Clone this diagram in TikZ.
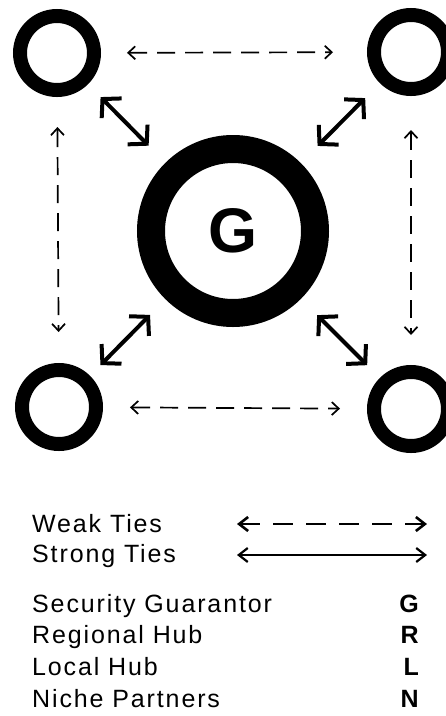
\documentclass[tikz,border=0pt]{standalone}
\usepackage{fontspec}
\setmainfont{Liberation Sans}
\newfontfamily\legfont{Liberation Sans}[LetterSpace=7.5]
\usetikzlibrary{arrows.meta}
\tikzset{
  ring/.style={circle,draw,line width=14pt,minimum size=74pt,inner sep=0pt},
  hub/.style={circle,draw,line width=28pt,minimum size=164pt,inner sep=0pt,
    font=\fontsize{63}{63}\selectfont\bfseries},
  strongtie/.style={line width=4pt,
    {Straight Barb[length=13pt,width=28pt]}-{Straight Barb[length=13pt,width=28pt]}},
  weaktie/.style={line width=1.7pt,dash pattern=on 18pt off 10pt,
    {Straight Barb[length=7pt,width=13pt]}-{Straight Barb[length=7pt,width=13pt]}},
  legweak/.style={line width=2.6pt,dash pattern=on 20pt off 13pt,
    {Straight Barb[length=9pt,width=14pt]}-{Straight Barb[length=9pt,width=14pt]}},
  legstrong/.style={line width=2.2pt,
    {Straight Barb[length=9pt,width=14pt]}-{Straight Barb[length=9pt,width=14pt]}},
  legtext/.style={anchor=base west,inner sep=0pt,font=\legfont\fontsize{25}{25}\selectfont},
  legkey/.style={anchor=base east,inner sep=0pt,font=\fontsize{25}{25}\selectfont\bfseries},
}
\begin{document}
\begin{tikzpicture}[x=1pt,y=-1pt]
\useasboundingbox (0,0) rectangle (446,716);
\path[clip] (0,0) rectangle (446,716);
% nodes
\node[ring] (TL) at (57,53) {};
\node[ring] (TR) at (411,52) {};
\node[ring] (BL) at (59,407) {};
\node[ring] (BR) at (411,409) {};
\node[hub] (G) at (233,231) {G};
% strong ties
\draw[strongtie,shorten <=18pt,shorten >=24pt] (TL) -- (G);
\draw[strongtie,shorten <=21pt,shorten >=24pt] (TR) -- (G);
\draw[strongtie,shorten <=15pt,shorten >=22pt] (BL) -- (G);
\draw[strongtie,shorten <=18pt,shorten >=23pt] (BR) -- (G);
% weak ties
\draw[weaktie,shorten <=26pt,shorten >=34pt] (TL) -- (TR);
\draw[weaktie,shorten <=27pt,shorten >=27pt] (BL) -- (BR);
\draw[weaktie,shorten <=30pt,shorten >=31pt] (TL) -- (BL);
\draw[weaktie,shorten <=34pt,shorten >=30pt] (TR) -- (BR);
% legend
\node[legtext] (wt) at (32,532) {Weak Ties};
\node[legtext] (st) at (32,562) {Strong Ties};
\coordinate (w1) at (237,524);
\coordinate (w2) at (427,524);
\coordinate (s1) at (237,555);
\coordinate (s2) at (427,555);
\draw[legweak] (w1) -- (w2);
\draw[legstrong] (s1) -- (s2);
\node[legtext] (sg) at (32,612) {Security Guarantor};
\node[legtext] (rh) at (32,643) {Regional Hub};
\node[legtext] (lh) at (32,675) {Local Hub};
\node[legtext] (np) at (32,707) {Niche Partners};
\node[legkey] (kg) at (419,612) {G};
\node[legkey] (kr) at (419,643) {R};
\node[legkey] (kl) at (419,675) {L};
\node[legkey] (kn) at (419,707) {N};
\end{tikzpicture}
\end{document}
